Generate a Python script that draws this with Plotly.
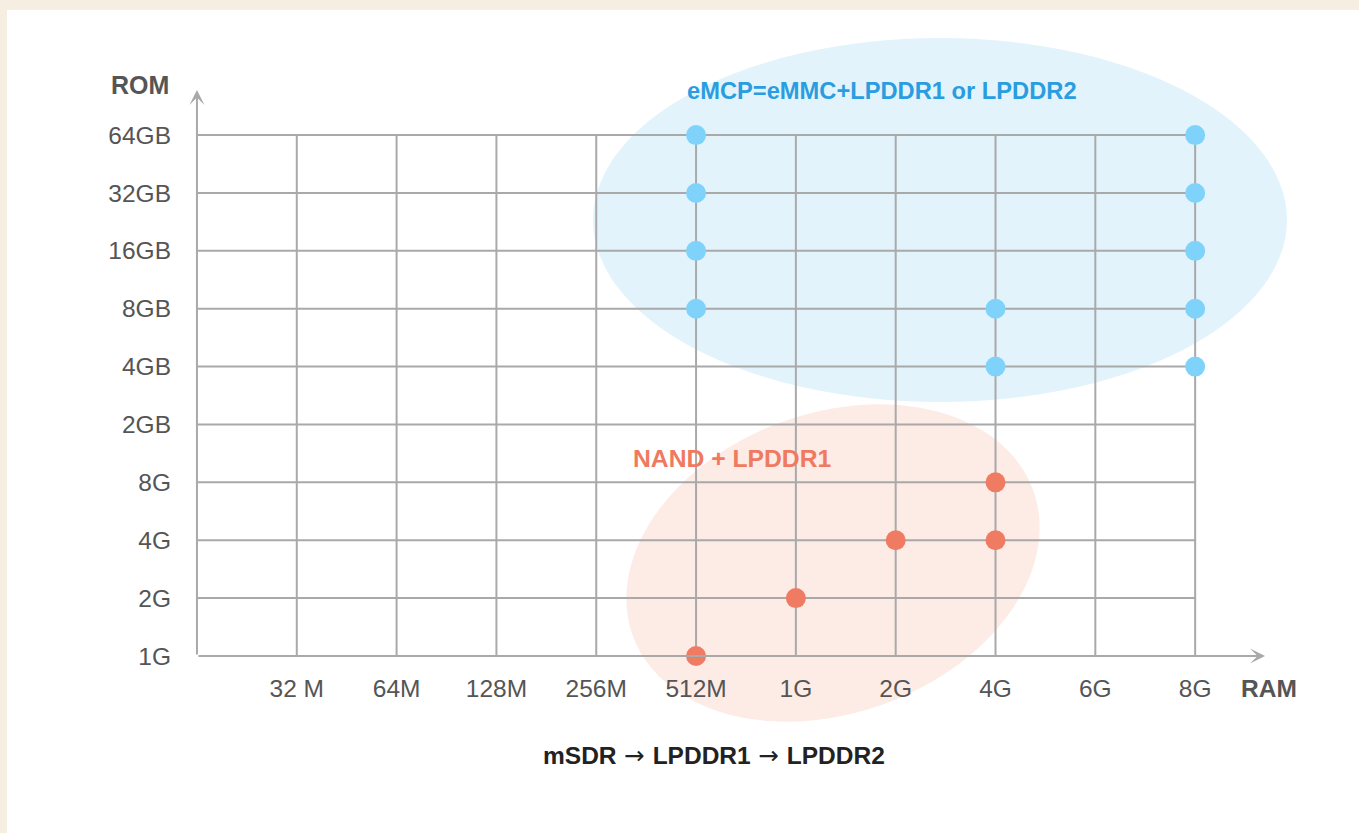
import math
import plotly.graph_objects as go

# ---------------- data ----------------
ram_labels = ["32 M", "64M", "128M", "256M", "512M", "1G", "2G", "4G", "6G", "8G"]
rom_labels = ["1G", "2G", "4G", "8G", "2GB", "4GB", "8GB", "16GB", "32GB", "64GB"]

emcp_ram = ["512M", "512M", "512M", "512M", "4G", "4G", "8G", "8G", "8G", "8G", "8G"]
emcp_rom = ["8GB", "16GB", "32GB", "64GB", "4GB", "8GB", "4GB", "8GB", "16GB", "32GB", "64GB"]

nand_ram = ["512M", "1G", "2G", "4G", "4G"]
nand_rom = ["1G", "2G", "4G", "4G", "8G"]

emcp_title = "eMCP=eMMC+LPDDR1 or LPDDR2"
nand_title = "NAND + LPDDR1"
x_name = "RAM"
y_name = "ROM"
bottom_parts = ["mSDR", "LPDDR1", "LPDDR2"]

# ---------------- layout geometry ----------------
W, H = 1359, 833
ML, MR, MT, MB = 177, 84, 83, 162
XR = [-0.2, 10.8]
YR = [-(H - MB - 656) / 57.89, 9.9]
PW, PH = W - ML - MR, H - MT - MB

FONT = "Liberation Sans, Arial, Helvetica, sans-serif"
GRID = "#a9a9a9"
TXT = "#555555"


def ppx(x):
    return (x - ML) / PW


def ppy(y):
    return (H - MB - y) / PH


xpos = {lab: i + 1 for i, lab in enumerate(ram_labels)}
ypos = {lab: j for j, lab in enumerate(rom_labels)}

# grid lines
nx = len(ram_labels)
ny = len(rom_labels) - 1
gx, gy = [], []
for j in range(1, ny + 1):
    gx += [0, nx, None]
    gy += [j, j, None]
for i in range(1, nx + 1):
    gx += [i, i, None]
    gy += [0, ny, None]


def ellipse_path(cx, cy, a, b, deg, n=120):
    th = math.radians(deg)
    pts = []
    for k in range(n):
        t = 2 * math.pi * k / n
        x = cx + a * math.cos(t) * math.cos(th) - b * math.sin(t) * math.sin(th)
        y = cy - (a * math.cos(t) * math.sin(th) + b * math.sin(t) * math.cos(th))
        pts.append((ppx(x), ppy(y)))
    return "M " + " L ".join(f"{p[0]:.5f},{p[1]:.5f}" for p in pts) + " Z"


fig = go.Figure()

fig.add_trace(go.Scatter(
    x=gx, y=gy, mode="lines",
    line=dict(color=GRID, width=2),
    hoverinfo="skip", showlegend=False,
))

fig.add_trace(go.Scatter(
    x=[xpos[r] for r in emcp_ram], y=[ypos[r] for r in emcp_rom],
    mode="markers", marker=dict(size=20, color="#7fd3fa"),
    cliponaxis=False, showlegend=False, name="eMCP",
))
fig.add_trace(go.Scatter(
    x=[xpos[r] for r in nand_ram], y=[ypos[r] for r in nand_rom],
    mode="markers", marker=dict(size=20, color="#ef7b63"),
    cliponaxis=False, showlegend=False, name="NAND",
))

shapes = [
    # white panel
    dict(type="rect", xref="paper", yref="paper",
         x0=ppx(7), x1=ppx(W + 5), y0=ppy(H + 5), y1=ppy(10),
         fillcolor="white", line=dict(width=0), layer="below"),
    # blue ellipse
    dict(type="path", xref="paper", yref="paper",
         path=ellipse_path(940, 220, 347, 182, 0),
         fillcolor="#e3f3fc", line=dict(width=0), layer="below"),
    # pink ellipse
    dict(type="path", xref="paper", yref="paper",
         path=ellipse_path(833, 563, 213, 150, 20),
         fillcolor="#fdebe6", line=dict(width=0), layer="below"),
]

arrow_span = "</b><span style=\"font-family:DejaVu Sans\"> \u2192 </span><b>"
bottom_note = "<b>" + arrow_span.join(bottom_parts) + "</b>"

annotations = [
    # axis arrows
    dict(x=10.7, y=0, ax=0, ay=0, xref="x", yref="y", axref="x", ayref="y",
         text="", showarrow=True, arrowhead=3, arrowsize=1.25, arrowwidth=2,
         arrowcolor=GRID),
    dict(x=0, y=9.78, ax=0, ay=0, xref="x", yref="y", axref="x", ayref="y",
         text="", showarrow=True, arrowhead=3, arrowsize=1.25, arrowwidth=2,
         arrowcolor=GRID),
    dict(x=ppx(171), y=ppy(85), xref="paper", yref="paper", text=f"<b>{y_name}</b>",
         showarrow=False, xanchor="right", yanchor="middle",
         font=dict(family=FONT, size=25, color=TXT)),
    dict(x=ppx(1239), y=ppy(688), xref="paper", yref="paper", text=f"<b>{x_name}</b>",
         showarrow=False, xanchor="left", yanchor="middle",
         font=dict(family=FONT, size=24.5, color=TXT)),
    dict(x=ppx(882), y=ppy(91), xref="paper", yref="paper", text=f"<b>{emcp_title}</b>",
         showarrow=False, xanchor="center", yanchor="middle",
         font=dict(family=FONT, size=23.7, color="#2a9de0")),
    dict(x=ppx(732), y=ppy(458), xref="paper", yref="paper", text=f"<b>{nand_title}</b>",
         showarrow=False, xanchor="center", yanchor="middle",
         font=dict(family=FONT, size=24.7, color="#ef7a60")),
    dict(x=ppx(714), y=ppy(755), xref="paper", yref="paper", text=bottom_note,
         showarrow=False, xanchor="center", yanchor="middle",
         font=dict(family=FONT, size=24.5, color="#222222")),
]

fig.update_layout(
    width=W, height=H,
    margin=dict(l=ML, r=MR, t=MT, b=MB, pad=0),
    paper_bgcolor="#f6eee0",
    plot_bgcolor="rgba(0,0,0,0)",
    shapes=shapes,
    annotations=annotations,
    showlegend=False,
    font=dict(family=FONT, size=24, color=TXT),
)
fig.update_xaxes(
    range=XR, showgrid=False, zeroline=False, showline=False,
    tickmode="array", tickvals=[xpos[r] for r in ram_labels], ticktext=ram_labels,
    ticks="", ticklabelstandoff=0,
    tickfont=dict(family=FONT, size=24.5, color=TXT),
    fixedrange=True,
)
fig.update_yaxes(
    range=YR, showgrid=False, zeroline=False, showline=False,
    tickmode="array", tickvals=[ypos[r] for r in rom_labels], ticktext=rom_labels,
    ticks="", ticklabelstandoff=5,
    tickfont=dict(family=FONT, size=24.5, color=TXT),
    fixedrange=True,
)

fig.write_html(
    "out.html",
    config={"displayModeBar": False},
    post_script="document.body.style.margin='0';document.body.style.overflow='hidden';",
)
